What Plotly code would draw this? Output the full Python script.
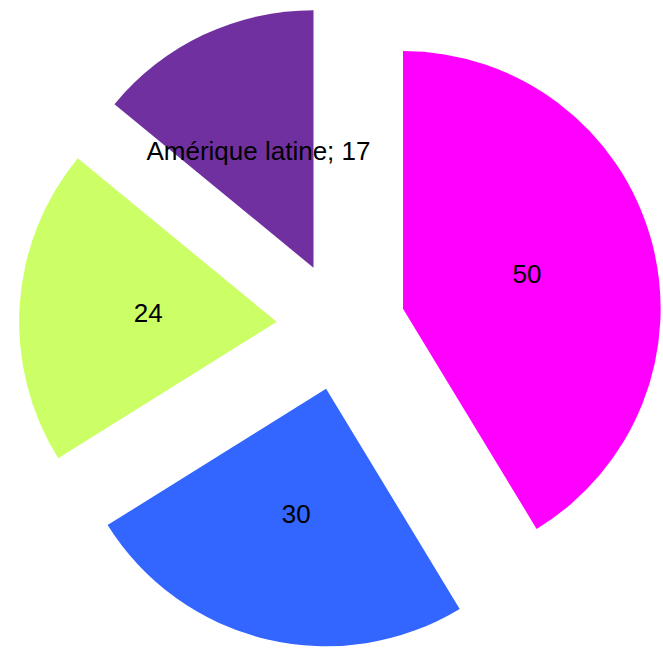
import math
import plotly.graph_objects as go

# ---- data ----
categories = ["Europe", "Asie", "Afrique", "Amérique latine"]
values = [50, 30, 24, 17]
slice_text = ["50", "30", "24", "Amérique latine; 17"]

# ---- style ----
colors = ["#FF00FF", "#3366FF", "#CCFF66", "#7030A0"]
PULL = 0.25
FONT = dict(family="Arial, Liberation Sans, sans-serif", size=26, color="#000000")

# Labels sit half-way along each slice's radius (like the reference). Plotly puts
# inside text at a fraction (1 - inscribed-circle radius) of the radius, so a
# transparent text layer with per-slice pulls is used to land them at 0.5 r.
total = sum(values)
r_center = []
for v in values:
    s = math.sin(math.pi * min(v / total, 0.5))
    r_center.append(1 - s / (1 + s))
f = (PULL + 0.5) / (1 + PULL)
k = f * (1 - min(r_center)) / (1 - f)
text_pull = [k - rc for rc in r_center]

fig = go.Figure()
fig.add_trace(go.Pie(
    labels=categories,
    values=values,
    textinfo="none",
    marker=dict(colors=colors, line=dict(width=0)),
    pull=[PULL] * len(values),
    sort=False,
    direction="clockwise",
    rotation=0,
    showlegend=False,
    hoverinfo="label+value",
))
fig.add_trace(go.Pie(
    labels=categories,
    values=values,
    text=slice_text,
    texttemplate="%{text}",
    textinfo="text",
    textposition="inside",
    insidetextorientation="horizontal",
    marker=dict(colors=["rgba(0,0,0,0)"] * len(values), line=dict(width=0)),
    pull=text_pull,
    sort=False,
    direction="clockwise",
    rotation=0,
    textfont=FONT,
    showlegend=False,
    hoverinfo="skip",
))

fig.update_layout(
    width=663,
    height=648,
    margin=dict(l=19, r=0, t=4, b=0),
    paper_bgcolor="white",
    plot_bgcolor="white",
    uniformtext=dict(minsize=26, mode="show"),
)

fig.write_html(
    "out.html",
    config={"displayModeBar": False},
    post_script="document.body.style.margin='0';",
)
